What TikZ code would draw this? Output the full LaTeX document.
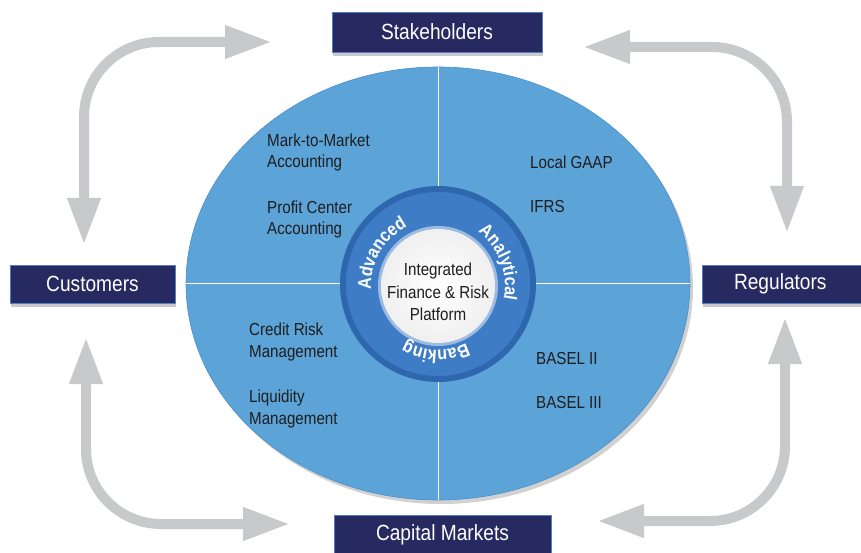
\documentclass[tikz,border=0pt]{standalone}
\usepackage{fontspec}
\setmainfont{Liberation Sans}[FakeStretch=0.87]
\usetikzlibrary{arrows.meta,decorations.text,shadows,shapes.geometric}
\definecolor{navy}{HTML}{262A60}
\definecolor{boxedge}{HTML}{4F7FC0}
\definecolor{ellfill}{HTML}{5CA3D8}
\definecolor{elledge}{HTML}{4B8FCB}
\definecolor{ringdark}{HTML}{2F67AF}
\definecolor{ringmid}{HTML}{3E7DC6}
\definecolor{corerim}{HTML}{9DBBE0}
\definecolor{arrowgray}{HTML}{C8C9CB}
\definecolor{labeltext}{HTML}{1E1E1E}
\newcommand\ringfont{\fontsize{18.5}{18.5}\selectfont\bfseries}
\begin{document}
\begin{tikzpicture}[x=1pt,y=-1pt,
  boxnode/.style={draw=boxedge, line width=0.8pt, fill=navy, text=white,
    minimum height=40pt, inner sep=0pt, font=\fontsize{22}{26}\selectfont,
    drop shadow={shadow xshift=1pt, shadow yshift=-4pt, opacity=0.3, fill=black!70}},
  lbl/.style={anchor=base west, align=left, inner sep=0pt, text=labeltext,
    font=\fontsize{17.4}{21.5}\selectfont},
  flow/.style={draw=arrowgray, line width=10pt, rounded corners=75pt,
    {Triangle[width=31pt,length=47pt]}-{Triangle[width=31pt,length=47pt]}},
  divider/.style={draw=white, line width=0.9pt},
  ringtext/.style={decorate, decoration={text along path, text align=center,
    text color=white, text={|\ringfont|#1}}},
]
\useasboundingbox (0,0) rectangle (861,553);

% central ellipse
\node[ellipse, minimum width=504pt, minimum height=433pt, inner sep=0pt,
  fill=ellfill, draw=elledge, line width=0.6pt,
  drop shadow={shadow xshift=3pt, shadow yshift=-4pt, opacity=0.3, fill=black!60}]
  (ell) at (438,283.5) {};
\draw[divider] (ell.north) -- (ell.south);
\draw[divider] (ell.west) -- (ell.east);

% ring
\node[circle, minimum size=196pt, inner sep=0pt, fill=ringdark] (ring) at (438,284) {};
\fill[ringmid] (ring.center) circle[radius=92pt];
\node[circle, minimum size=120pt, inner sep=0pt, fill=corerim] (rim) at (438,286) {};
\node[circle, minimum size=114pt, inner sep=0pt, inner color=white, outer color=black!6] (core) at (438,286) {};
\node[align=center, inner sep=0pt, text=labeltext, font=\fontsize{17.4}{22.5}\selectfont]
  (coretxt) at (438,292) {Integrated\\Finance \& Risk\\Platform};

\begin{scope}[shift={(core.center)}]
  \path[ringtext=Advanced] (200:67pt) arc[start angle=200, end angle=100, radius=67pt];
  \path[ringtext=Analytical] (72:67pt) arc[start angle=72, end angle=-30, radius=67pt];
  \path[ringtext=Banking] (-45:64pt) arc[start angle=-45, end angle=-139, radius=64pt];
\end{scope}

% labels
\node[lbl] (mtm) at (267,168) {Mark-to-Market\\Accounting};
\node[lbl] (pca) at (267,235) {Profit Center\\Accounting};
\node[lbl] (gaap) at (530,169) {Local GAAP};
\node[lbl] (ifrs) at (530,213) {IFRS};
\node[lbl] (crm) at (249,357) {Credit Risk\\Management};
\node[lbl] (liq) at (249,424) {Liquidity\\Management};
\node[lbl] (b2) at (536,364) {BASEL II};
\node[lbl] (b3) at (536,408) {BASEL III};

% outer boxes
\node[boxnode, minimum width=210pt] (stake) at (437,32) {Stakeholders};
\node[boxnode, minimum width=217pt] (cap) at (442.5,535) {Capital Markets};
\node[boxnode, minimum width=165pt, minimum height=38pt] (cust) at (92.5,284) {Customers};
\node[boxnode, minimum width=165pt, minimum height=38pt, text width=165pt, align=left] (reg) at (784.5,284) {\hspace*{32pt}Regulators};

% flow arrows
\coordinate (a1s) at (84,245);  \coordinate (a1c) at (84,42);  \coordinate (a1e) at (272,42);
\coordinate (a2s) at (583,47);  \coordinate (a2c) at (787,47); \coordinate (a2e) at (787,233);
\coordinate (a3s) at (86,337);  \coordinate (a3c) at (86,524); \coordinate (a3e) at (290,524);
\coordinate (a4s) at (597,521); \coordinate (a4c) at (785,521); \coordinate (a4e) at (785,317);
\draw[flow] (a1s) -- (a1c) -- (a1e);
\draw[flow] (a2s) -- (a2c) -- (a2e);
\draw[flow] (a3s) -- (a3c) -- (a3e);
\draw[flow] (a4s) -- (a4c) -- (a4e);
\end{tikzpicture}
\end{document}
